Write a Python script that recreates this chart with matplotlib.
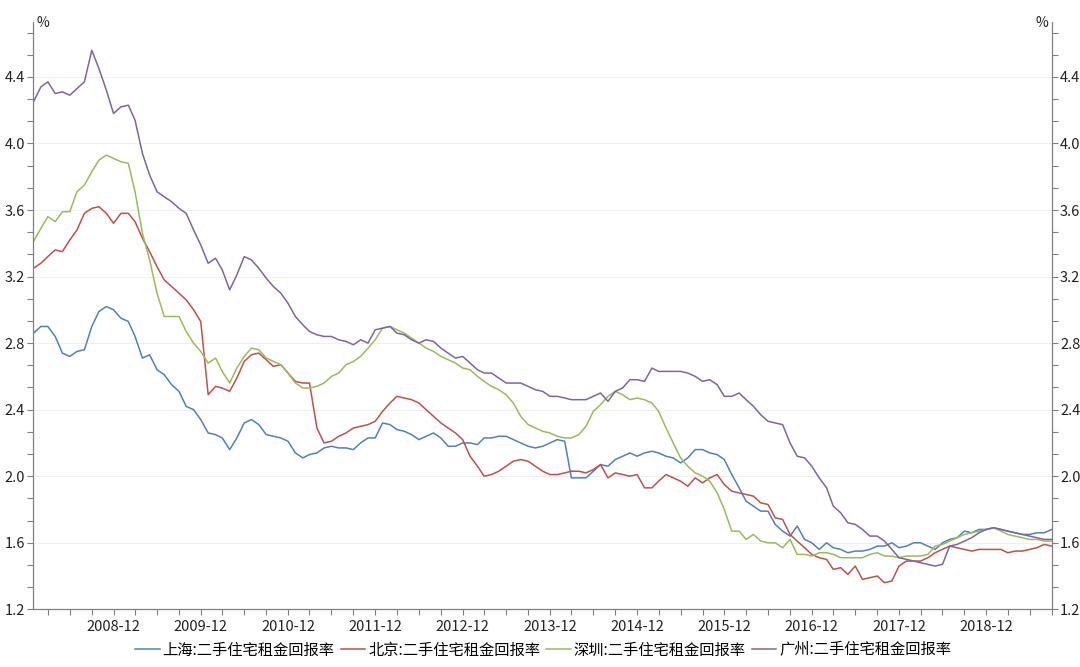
import numpy as np
import pandas as pd
import matplotlib
matplotlib.use("Agg")
import matplotlib.pyplot as plt
import matplotlib.dates as mdates
from matplotlib.ticker import MultipleLocator

plt.rcParams['font.family'] = ['Noto Sans CJK SC', 'DejaVu Sans']

# monthly data, 2008-01 .. 2019-09
months = pd.date_range('2008-01-01', periods=141, freq='MS')

shanghai = [2.86, 2.90, 2.90, 2.84, 2.74, 2.72, 2.75, 2.76, 2.90, 2.99, 3.02, 3.00, 2.95, 2.93, 2.84, 2.71, 2.73, 2.64, 2.61, 2.55, 2.51, 2.42, 2.40, 2.34, 2.26, 2.25,
            2.23, 2.16, 2.23, 2.32, 2.34, 2.31, 2.25, 2.24, 2.23, 2.21, 2.14, 2.11, 2.13, 2.14, 2.17, 2.18, 2.17, 2.17, 2.16, 2.20, 2.23, 2.23, 2.32, 2.31,
            2.28, 2.27, 2.25, 2.22, 2.24, 2.26, 2.23, 2.18, 2.18, 2.20, 2.20, 2.19, 2.23, 2.23, 2.24, 2.24, 2.22, 2.20, 2.18, 2.17, 2.18, 2.20, 2.22, 2.21,
            1.99, 1.99, 1.99, 2.03, 2.07, 2.06, 2.10, 2.12, 2.14, 2.12, 2.14, 2.15, 2.14, 2.12, 2.11, 2.08, 2.11, 2.16, 2.16, 2.14, 2.13, 2.10, 2.01, 1.93, 1.85, 1.82,
            1.79, 1.79, 1.71, 1.67, 1.64, 1.70, 1.62, 1.60, 1.56, 1.60, 1.57, 1.56, 1.54, 1.55, 1.55, 1.56, 1.58, 1.58, 1.60, 1.57, 1.58, 1.60, 1.60, 1.58,
            1.56, 1.60, 1.62, 1.63, 1.67, 1.66, 1.68, 1.68, 1.69, 1.68, 1.67, 1.66, 1.65, 1.65, 1.66, 1.66, 1.68]

beijing = [3.25, 3.28, 3.32, 3.36, 3.35, 3.42, 3.48, 3.58, 3.61, 3.62, 3.58, 3.52, 3.58, 3.58, 3.53, 3.43, 3.35, 3.26, 3.18, 3.14, 3.10, 3.06, 3.00, 2.93, 2.49, 2.54,
           2.53, 2.51, 2.59, 2.69, 2.73, 2.74, 2.70, 2.66, 2.67, 2.62, 2.57, 2.56, 2.56, 2.29, 2.20, 2.21, 2.24, 2.26, 2.29, 2.30, 2.31, 2.33, 2.39, 2.44,
           2.48, 2.47, 2.46, 2.44, 2.40, 2.36, 2.32, 2.29, 2.26, 2.22, 2.12, 2.06, 2.00, 2.01, 2.03, 2.06, 2.09, 2.10, 2.09, 2.06, 2.03, 2.01, 2.01, 2.02,
           2.03, 2.03, 2.02, 2.04, 2.07, 1.99, 2.02, 2.01, 2.00, 2.01, 1.93, 1.93, 1.97, 2.01, 1.99, 1.97, 1.94, 1.99, 1.96, 1.99, 2.01, 1.95, 1.91, 1.90, 1.89, 1.88,
           1.84, 1.83, 1.75, 1.74, 1.65, 1.61, 1.57, 1.53, 1.51, 1.50, 1.44, 1.45, 1.41, 1.46, 1.38, 1.39, 1.40, 1.36, 1.37, 1.46, 1.49, 1.49, 1.49, 1.51,
           1.54, 1.56, 1.58, 1.57, 1.56, 1.55, 1.56, 1.56, 1.56, 1.56, 1.54, 1.55, 1.55, 1.56, 1.57, 1.59, 1.58]

shenzhen = [3.41, 3.49, 3.56, 3.53, 3.59, 3.59, 3.71, 3.75, 3.83, 3.90, 3.93, 3.91, 3.89, 3.88, 3.71, 3.46, 3.30, 3.10, 2.96, 2.96, 2.96, 2.87, 2.80, 2.75, 2.68, 2.71,
            2.63, 2.56, 2.65, 2.72, 2.77, 2.76, 2.71, 2.69, 2.67, 2.62, 2.56, 2.53, 2.53, 2.54, 2.56, 2.60, 2.62, 2.67, 2.69, 2.72, 2.77, 2.82, 2.89, 2.90,
            2.88, 2.86, 2.83, 2.80, 2.77, 2.75, 2.72, 2.70, 2.68, 2.65, 2.64, 2.60, 2.57, 2.54, 2.52, 2.49, 2.44, 2.36, 2.31, 2.29, 2.27, 2.26, 2.24, 2.23,
            2.23, 2.25, 2.30, 2.39, 2.43, 2.48, 2.51, 2.49, 2.46, 2.47, 2.46, 2.44, 2.39, 2.29, 2.20, 2.11, 2.06, 2.02, 2.00, 1.97, 1.90, 1.80, 1.67, 1.67, 1.62, 1.65,
            1.61, 1.60, 1.60, 1.57, 1.62, 1.53, 1.53, 1.52, 1.54, 1.54, 1.53, 1.51, 1.51, 1.51, 1.51, 1.53, 1.54, 1.52, 1.52, 1.51, 1.52, 1.52, 1.52, 1.53,
            1.58, 1.59, 1.61, 1.63, 1.65, 1.66, 1.67, 1.68, 1.69, 1.67, 1.65, 1.64, 1.63, 1.62, 1.62, 1.61, 1.61]

guangzhou = [4.25, 4.34, 4.37, 4.30, 4.31, 4.29, 4.33, 4.37, 4.56, 4.45, 4.32, 4.18, 4.22, 4.23, 4.14, 3.94, 3.81, 3.71, 3.68, 3.65, 3.61, 3.58, 3.48, 3.39, 3.28, 3.31,
             3.24, 3.12, 3.21, 3.32, 3.30, 3.25, 3.19, 3.14, 3.10, 3.04, 2.96, 2.91, 2.87, 2.85, 2.84, 2.84, 2.82, 2.81, 2.79, 2.82, 2.80, 2.88, 2.89, 2.90,
             2.86, 2.85, 2.82, 2.80, 2.82, 2.81, 2.77, 2.74, 2.71, 2.72, 2.68, 2.64, 2.62, 2.62, 2.59, 2.56, 2.56, 2.56, 2.54, 2.52, 2.51, 2.48, 2.48, 2.47,
             2.46, 2.46, 2.46, 2.48, 2.50, 2.45, 2.51, 2.53, 2.58, 2.58, 2.57, 2.65, 2.63, 2.63, 2.63, 2.63, 2.62, 2.60, 2.57, 2.58, 2.55, 2.48, 2.48, 2.50, 2.46, 2.42,
             2.37, 2.33, 2.32, 2.31, 2.20, 2.12, 2.11, 2.06, 1.99, 1.93, 1.82, 1.78, 1.72, 1.71, 1.68, 1.64, 1.64, 1.61, 1.56, 1.51, 1.50, 1.49, 1.48, 1.47,
             1.46, 1.47, 1.58, 1.59, 1.61, 1.63, 1.66, 1.68, 1.69, 1.68, 1.67, 1.66, 1.65, 1.64, 1.63, 1.62, 1.62]

labels = ['上海:二手住宅租金回报率', '北京:二手住宅租金回报率',
          '深圳:二手住宅租金回报率', '广州:二手住宅租金回报率']
colors = ['#4F81BD', '#C0504D', '#9BBB59', '#8064A2']

fig = plt.figure(figsize=(10.8, 6.67), dpi=100)
ax = fig.add_axes([0.031, 0.0865, 0.9428, 0.8805])

for vals, lab, col in zip([shanghai, beijing, shenzhen, guangzhou], labels, colors):
    ax.plot(months, vals, color=col, lw=1.1, label=lab)

ax.set_xlim(months[0], months[-1])
ax.set_ylim(1.2, 4.73)

# ticks
ax.yaxis.set_major_locator(MultipleLocator(0.4))
ax.yaxis.set_minor_locator(MultipleLocator(0.4 / 3))
ax.xaxis.set_major_locator(mdates.MonthLocator(bymonth=12))
ax.xaxis.set_minor_locator(mdates.MonthLocator(bymonth=[3, 6, 9, 12]))
ax.xaxis.set_major_formatter(mdates.DateFormatter('%Y-%m'))
ax.yaxis.set_major_formatter(plt.FuncFormatter(lambda v, p: f'{v:.1f}'))

ax.tick_params(axis='both', which='both', colors='#808080', labelcolor='#222222',
               labelsize=10.5, length=4, width=0.8)
ax.tick_params(axis='y', which='both', left=True, right=True, labelleft=True, labelright=True, pad=2)
ax.tick_params(axis='x', pad=4)

for s in ['left', 'right', 'bottom']:
    ax.spines[s].set_color('#808080')
    ax.spines[s].set_linewidth(0.9)
ax.spines['top'].set_visible(False)

ax.grid(axis='y', which='major', color='#EFEFEF', lw=0.8)
ax.set_axisbelow(True)

fig.text(0.034, 0.9655, '%', fontsize=10, color='#222222', ha='left', va='center')
fig.text(0.971, 0.9655, '%', fontsize=10, color='#222222', ha='right', va='center')

fig.legend(loc='lower center', bbox_to_anchor=(0.503, -0.008), ncol=4, frameon=False,
           fontsize=11, handlelength=1.6, handletextpad=0.2, columnspacing=0.4)

fig.savefig('out.png', dpi=100)
